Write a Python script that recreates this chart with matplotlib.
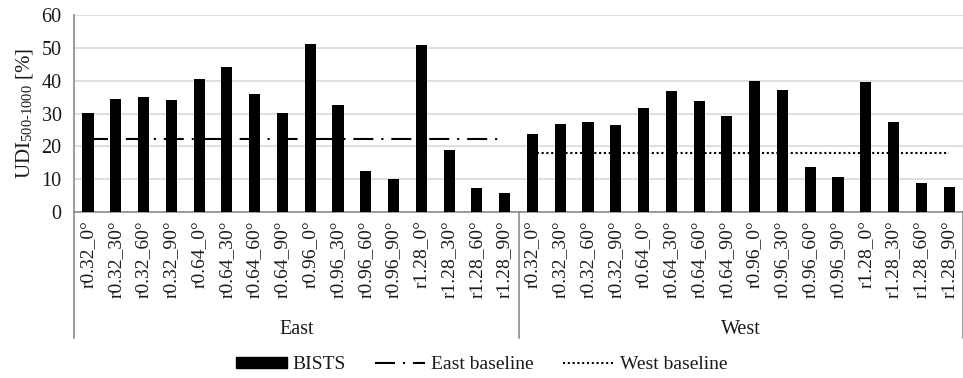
import numpy as np
import matplotlib.pyplot as plt
from matplotlib.lines import Line2D
from matplotlib.patches import Patch

plt.rcParams['font.family'] = ['Liberation Serif', 'DejaVu Serif']
plt.rcParams['mathtext.fontset'] = 'stix'
plt.rcParams['font.size'] = 14

cases = ['r0.32_0°', 'r0.32_30°', 'r0.32_60°', 'r0.32_90°',
         'r0.64_0°', 'r0.64_30°', 'r0.64_60°', 'r0.64_90°',
         'r0.96_0°', 'r0.96_30°', 'r0.96_60°', 'r0.96_90°',
         'r1.28_0°', 'r1.28_30°', 'r1.28_60°', 'r1.28_90°']
groups = ['East', 'West']

east_bists = [30.1, 34.3, 35.0, 34.1, 40.6, 44.1, 36.0, 30.3,
              51.1, 32.6, 12.6, 10.0, 50.9, 19.0, 7.3, 5.9]
west_bists = [23.7, 26.9, 27.5, 26.6, 31.7, 36.9, 33.8, 29.4,
              39.9, 37.1, 13.8, 10.6, 39.7, 27.4, 8.9, 7.5]
east_baseline = 22.4
west_baseline = 18.1

values = east_bists + west_bists
labels = cases * 2
n = len(cases)
x = np.arange(len(values))

text_color = '#1a1a1a'
axis_color = '#8c8c8c'
east_ls = (0, (9.6, 3.8, 1, 3.8))
west_ls = (0, (1, 1.3))

fig = plt.figure(figsize=(9.63, 3.78), dpi=100)
ax = fig.add_axes([0.077, 0.439, 0.923, 0.521])

ax.bar(x, values, width=0.4, color='black', zorder=3)

# baselines run across each orientation group
ax.plot([0, n - 1], [east_baseline] * 2, color='black', lw=1.5,
        linestyle=east_ls, zorder=4)
ax.plot([n, 2 * n - 1], [west_baseline] * 2, color='black', lw=1.5,
        linestyle=west_ls, zorder=4)

ax.set_xlim(-0.5, 2 * n - 0.5)
ax.set_ylim(0, 60)
ax.set_yticks(range(0, 61, 10))
ax.yaxis.grid(True, color='#d9d9d9', lw=1.2)
ax.set_axisbelow(True)
ax.tick_params(length=0)
ax.tick_params(axis='y', pad=9, labelsize=14.5, labelcolor=text_color)
ax.set_xticks(x)
ax.set_xticklabels(labels, rotation=90)
ax.tick_params(axis='x', pad=6, labelcolor=text_color)

for s in ['top', 'right']:
    ax.spines[s].set_visible(False)
for s in ['left', 'bottom']:
    ax.spines[s].set_color(axis_color)
    ax.spines[s].set_linewidth(1.2)

ax.set_ylabel(r'UDI$_{\mathregular{500}\text{-}\mathregular{1000}}$ [%]',
              fontsize=15, color=text_color, labelpad=5)

# group separators and group names under the tick labels
trans = ax.get_xaxis_transform()
for xs in [-0.5, n - 0.5, 2 * n - 0.5]:
    ax.add_line(Line2D([xs, xs], [0, -0.64], transform=trans, color=axis_color,
                       lw=1.2, clip_on=False))
for i, g in enumerate(groups):
    ax.text(i * n + (n - 1) / 2, -0.595, g, transform=trans, ha='center',
            va='center', color=text_color, fontsize=14.5)

handles = [Patch(facecolor='black', edgecolor='black', label='BISTS'),
           Line2D([], [], color='black', lw=1.5, linestyle=east_ls,
                  label='East baseline'),
           Line2D([], [], color='black', lw=1.5, linestyle=west_ls,
                  label='West baseline')]
fig.legend(handles=handles, loc='center', bbox_to_anchor=(0.5, 0.035), ncol=3,
           frameon=False, handlelength=2.6, handleheight=0.55, columnspacing=1.5,
           handletextpad=0.3, labelcolor=text_color,
           prop={'family': 'Liberation Serif', 'size': 14})

fig.savefig('out.png', dpi=100)
